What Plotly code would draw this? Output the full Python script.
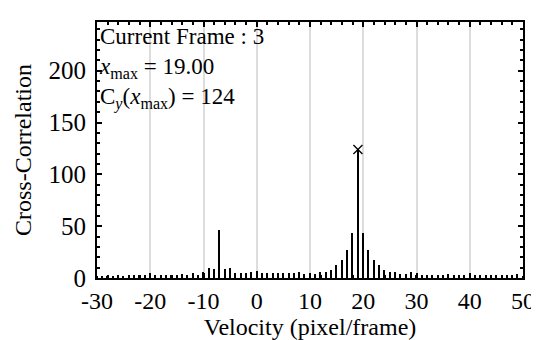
import plotly.graph_objects as go

velocity = list(range(-30, 51))
corr = [
    1, 1, 2, 1, 2, 2, 2, 3, 3, 3,      # -30..-21
    4, 3, 3, 3, 3, 3, 4, 3, 5, 3,      # -20..-11
    6, 10, 9, 46, 9, 10, 5, 5, 5, 6,   # -10..-1
    7, 5, 5, 5, 5, 5, 5, 5, 6, 4,      # 0..9
    4, 4, 6, 6, 8, 13, 17, 27, 43, 124, # 10..19
    43, 27, 17, 13, 8, 6, 6, 4, 4, 6,  # 20..29
    3, 3, 3, 3, 3, 3, 4, 3, 3, 3,      # 30..39
    3, 3, 3, 3, 3, 3, 2, 3, 3, 4, 1,   # 40..50
]
peak_x = 19
peak_y = 124
frame_no = 3
x_ticks = [-30, -20, -10, 0, 10, 20, 30, 40, 50]
y_ticks = [0, 50, 100, 150, 200]

FONT = "Liberation Serif"

fig = go.Figure()
fig.add_trace(go.Bar(x=velocity, y=corr, width=0.26, marker=dict(color="black", line=dict(width=0)),
                     showlegend=False))
fig.add_trace(go.Scatter(x=[peak_x], y=[peak_y], mode="markers",
                         marker=dict(symbol="x-thin", size=9, line=dict(color="black", width=1.3)),
                         showlegend=False))

fig.add_annotation(
    xref="paper", yref="paper", x=0.0, y=1.0, xanchor="left", yanchor="top",
    align="left", showarrow=False,
    text=(f"Current Frame : {frame_no}<br>"
          f"<i>x</i><sub>max</sub> = {peak_x:.2f}<br>"
          f"C<sub><i>y</i></sub>(<i>x</i><sub>max</sub>) = {peak_y}"),
    font=dict(family=FONT, size=23, color="black"),
)

fig.update_layout(
    width=539, height=340,
    margin=dict(l=89, r=16, t=13, b=70),
    paper_bgcolor="white", plot_bgcolor="white",
    font=dict(family=FONT, size=24, color="black"),
    bargap=0,
)
fig.update_xaxes(
    range=[-30, 50], tickvals=x_ticks, ticktext=[str(v) for v in x_ticks],
    showgrid=True, gridcolor="#dddddd", gridwidth=2,
    showline=True, linecolor="black", linewidth=2, mirror="ticks",
    ticks="inside", ticklen=5, tickwidth=1.5, tickcolor="black",
    minor=dict(dtick=2, ticks="inside", ticklen=3, tickwidth=1.5, tickcolor="black", showgrid=False),
    zeroline=False,
    title=dict(text="Velocity (pixel/frame)", font=dict(family=FONT, size=24), standoff=0),
    tickfont=dict(family=FONT, size=24),
)
fig.update_yaxes(
    range=[0, 247], tickvals=y_ticks, ticktext=[str(v) for v in y_ticks],
    showgrid=False,
    showline=True, linecolor="black", linewidth=2, mirror="ticks",
    ticks="inside", ticklen=5, tickwidth=1.5, tickcolor="black",
    minor=dict(dtick=10, ticks="inside", ticklen=3, tickwidth=1.5, tickcolor="black", showgrid=False),
    zeroline=False, ticklabelstandoff=4,
    title=dict(text="Cross-Correlation", font=dict(family=FONT, size=24), standoff=10),
    tickfont=dict(family=FONT, size=25),
)

fig.write_html("out.html")
